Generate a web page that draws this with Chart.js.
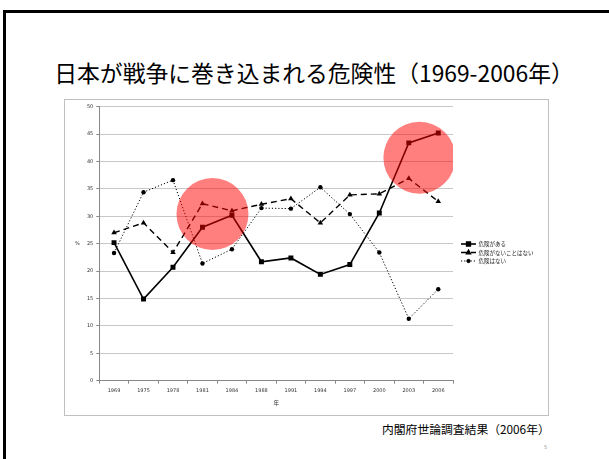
<!DOCTYPE html>
<html lang="ja">
<head>
  <meta charset="UTF-8">
  <title>日本が戦争に巻き込まれる危険性（1969-2006年）</title>
  <script src="https://cdn.jsdelivr.net/npm/chart.js"></script>
  <style>
    html, body { margin: 0; padding: 0; background: #fff; }
    body { width: 609px; height: 459px; position: relative; overflow: hidden;
           font-family: "Noto Sans CJK JP", "Noto Sans", sans-serif; }
    #frame { position: absolute; left: 3px; top: 10px; right: -10px; bottom: -10px;
             border-left: 3px solid #000; border-top: 3px solid #000; }
    #title { position: absolute; left: 5px; top: 56px; width: 618px; text-align: center;
             font-size: 22.8px; color: #000; white-space: nowrap; }
    #box { position: absolute; left: 64px; top: 99px; width: 483px; height: 315px;
           border: 1px solid #c0c0c0; }
    #source { position: absolute; left: 382px; top: 420px; font-size: 11.8px; color: #000; white-space: nowrap; }
    #page { position: absolute; left: 544px; top: 444px; font-size: 5px; color: #999;
            font-family: "DejaVu Sans", sans-serif; }
  </style>
</head>
<body>
  <div id="frame"></div>
  <div id="title">日本が戦争に巻き込まれる危険性（1969-2006年）</div>
  <div id="box"><canvas id="riskChart" width="483" height="315"></canvas></div>
  <div id="source">内閣府世論調査結果（2006年）</div>
  <div id="page">5</div>

  <script>
    // survey years
    const years = ['1969', '1975', '1978', '1981', '1984', '1988', '1991', '1994', '1997', '2000', '2003', '2006'];

    // % answering each option
    const seriesNames = ['危険がある', '危険がないことはない', '危険はない'];
    const danger = [25.2, 14.9, 20.7, 28.0, 30.2, 21.7, 22.4, 19.4, 21.2, 30.6, 43.4, 45.2];
    const notNoDanger = [27.0, 28.8, 23.4, 32.3, 31.0, 32.2, 33.2, 28.8, 33.9, 34.1, 36.9, 32.7];
    const noDanger = [23.3, 34.4, 36.6, 21.4, 24.0, 31.5, 31.4, 35.3, 30.4, 23.4, 11.3, 16.7];

    // red highlight circles (x = year index, y = %)
    const highlightX = [3.34, 10.36];
    const highlightY = [30.4, 40.7];

    const yTicks = { min: 0, max: 50, step: 5 };
    const xTitle = '年';
    const yTitle = '%';

    const tickFont = { family: 'DejaVu Sans', size: 5 };

    // legend drawn as line + marker like the original
    const legendPlugin = {
      id: 'lineLegend',
      afterDraw(chart) {
        const ctx = chart.ctx;
        const x0 = 396, x1 = 411, tx = 413.5;
        const rows = [144, 152.5, 161];
        chart.data.datasets.forEach((ds, i) => {
          if (ds.type !== 'line') return;
          const y = rows[i];
          ctx.save();
          ctx.strokeStyle = ds.borderColor;
          ctx.lineWidth = ds.borderWidth;
          ctx.setLineDash(ds.borderDash || []);
          ctx.beginPath();
          ctx.moveTo(x0, y);
          ctx.lineTo(x1, y);
          ctx.stroke();
          ctx.setLineDash([]);
          ctx.fillStyle = ds.pointBackgroundColor;
          ctx.strokeStyle = ds.pointBorderColor;
          Chart.helpers.drawPoint(ctx, {
            pointStyle: ds.pointStyle, radius: ds.pointRadius * 0.75, rotation: 0, borderWidth: 1
          }, (x0 + x1) / 2, y);
          ctx.fillStyle = '#222';
          ctx.font = '5.5px "Noto Sans CJK JP"';
          ctx.textBaseline = 'middle';
          ctx.fillText(ds.label, tx, y);
          ctx.restore();
        });
        // upright y-axis title
        ctx.save();
        ctx.fillStyle = '#333';
        ctx.font = '5px "DejaVu Sans"';
        ctx.textAlign = 'center';
        ctx.textBaseline = 'middle';
        ctx.fillText(yTitle, 12.5, (chart.chartArea.top + chart.chartArea.bottom) / 2);
        ctx.restore();
      }
    };

    function lineSet(label, data, dash, style, radius, width) {
      return {
        type: 'line',
        label: label,
        data: data,
        xAxisID: 'x',
        yAxisID: 'y',
        borderColor: '#000',
        borderWidth: width,
        borderDash: dash,
        pointStyle: style,
        pointRadius: radius,
        pointBackgroundColor: '#000',
        pointBorderColor: '#000',
        pointBorderWidth: 0,
        tension: 0,
        fill: false
      };
    }

    new Chart(document.getElementById('riskChart').getContext('2d'), {
      data: {
        labels: years,
        datasets: [
          lineSet(seriesNames[0], danger, [], 'rect', 3.5, 1.6),
          lineSet(seriesNames[1], notNoDanger, [6, 4], 'triangle', 3.2, 1.4),
          lineSet(seriesNames[2], noDanger, [1.2, 2], 'circle', 2.2, 1),
          {
            type: 'bubble',
            label: 'highlight',
            order: -1,
            xAxisID: 'xb',
            yAxisID: 'y',
            data: highlightX.map((x, i) => ({ x: x, y: highlightY[i], r: 36 })),
            backgroundColor: 'rgba(255, 0, 0, 0.5)',
            borderWidth: 0,
            hoverRadius: 0
          }
        ]
      },
      options: {
        responsive: false,
        animation: false,
        events: [],
        layout: { autoPadding: false, padding: { top: 6.7, right: 95, left: 0, bottom: 0 } },
        plugins: {
          legend: { display: false },
          tooltip: { enabled: false }
        },
        scales: {
          x: {
            type: 'category',
            offset: true,
            grid: { display: true, drawOnChartArea: false, drawTicks: true, tickLength: 3, color: '#888', offset: true },
            border: { display: true, color: '#888', width: 1 },
            ticks: { font: tickFont, color: '#333', padding: 4, maxRotation: 0, autoSkip: false },
            title: { display: true, text: xTitle, font: { family: 'Noto Sans CJK JP', size: 5.5 }, color: '#333', padding: { top: 3, bottom: 8.4 } },
            afterFit(scale) { scale.height = 34.3; }
          },
          xb: {
            type: 'linear',
            display: false,
            min: -0.5,
            max: 11.5
          },
          y: {
            min: yTicks.min,
            max: yTicks.max,
            ticks: { stepSize: yTicks.step, font: tickFont, color: '#333', padding: 3 },
            grid: { color: '#c8c8c8', lineWidth: 1, tickLength: 3, tickColor: '#888' },
            border: { display: true, color: '#888', width: 1 },
            afterFit(scale) { scale.width = 34.3; }
          }
        }
      },
      plugins: [legendPlugin]
    });
  </script>
</body>
</html>
